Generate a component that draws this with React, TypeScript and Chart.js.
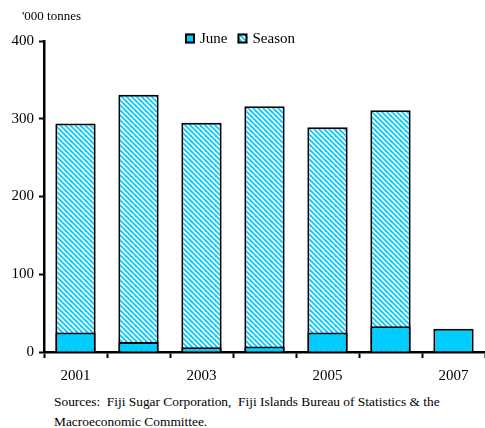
import React, { useEffect, useRef } from "react";
import { Chart, registerables } from "chart.js";

Chart.register(...registerables);

const years = ["2001", "2002", "2003", "2004", "2005", "2006", "2007"];
const juneValues = [25, 13, 6, 7, 25, 33, 30];
const seasonValues: (number | null)[] = [294, 331, 295, 316, 289, 311, null];
const yTicks = [0, 100, 200, 300, 400];
const shownLabels = ["2001", "2003", "2005", "2007"];

const CYAN = "#00CCFF";
const FONT = "'Liberation Serif', 'Times New Roman', serif";

function makeHatch(): CanvasPattern | string {
  const c = document.createElement("canvas");
  c.width = 5;
  c.height = 5;
  const ctx = c.getContext("2d");
  if (!ctx) return CYAN;
  ctx.fillStyle = "#ffffff";
  ctx.fillRect(0, 0, 5, 5);
  ctx.strokeStyle = CYAN;
  ctx.lineWidth = 1.8;
  for (let k = -1; k <= 1; k++) {
    ctx.beginPath();
    ctx.moveTo(-1, -1 + k * 5);
    ctx.lineTo(6, 6 + k * 5);
    ctx.stroke();
  }
  const p = ctx.createPattern(c, "repeat");
  return p || CYAN;
}

export default function App() {
  const ref = useRef<HTMLCanvasElement | null>(null);

  useEffect(() => {
    if (!ref.current) return;
    const hatch = makeHatch();

    const legendPlugin = {
      id: "customLegend",
      afterDraw(chart: any) {
        const ctx = chart.ctx as CanvasRenderingContext2D;
        ctx.save();
        ctx.font = `13px ${FONT}`;
        ctx.fillStyle = "#000";
        ctx.textBaseline = "alphabetic";
        ctx.textAlign = "left";
        ctx.fillText("'000 tonnes", 22, 20);

        ctx.font = `15px ${FONT}`;
        const items = chart.data.datasets.map((d: any) => ({
          label: d.label,
          fill: d.backgroundColor,
        }));
        const box = 10;
        const gapText = 5;
        const gapItem = 10;
        const widths = items.map(
          (it: any) => box + gapText + ctx.measureText(it.label).width
        );
        const total =
          widths.reduce((a: number, b: number) => a + b, 0) +
          gapItem * (items.length - 1);
        let x = Math.round(chart.width / 2 - total / 2) - 3;
        const yc = 38.5;
        items.forEach((it: any, i: number) => {
          ctx.fillStyle = it.fill;
          ctx.fillRect(x, yc - box / 2, box, box);
          ctx.strokeStyle = "#000";
          ctx.lineWidth = 2;
          ctx.strokeRect(x + 1, yc - box / 2 + 1, box - 2, box - 2);
          ctx.fillStyle = "#000";
          ctx.textBaseline = "middle";
          ctx.fillText(it.label, x + box + gapText, yc + 1);
          x += widths[i] + gapItem;
        });
        ctx.restore();
      },
    };

    const chart = new Chart(ref.current, {
      type: "bar",
      data: {
        labels: years,
        datasets: [
          {
            label: "June",
            data: juneValues,
            backgroundColor: CYAN,
            borderColor: "#000",
            borderWidth: 2,
            borderSkipped: "start",
            barPercentage: 0.64,
            categoryPercentage: 1,
          },
          {
            label: "Season",
            data: seasonValues,
            backgroundColor: hatch as any,
            borderColor: "#000",
            borderWidth: 2,
            borderSkipped: "start",
            barPercentage: 0.64,
            categoryPercentage: 1,
          },
        ],
      },
      options: {
        responsive: false,
        animation: false,
        events: [],
        layout: { padding: { top: 41, right: 0, left: 0, bottom: 0 } },
        plugins: {
          legend: { display: false },
          tooltip: { enabled: false },
          title: { display: false },
        },
        scales: {
          x: {
            stacked: true,
            afterFit: (s: any) => {
              s.height = 38;
            },
            grid: {
              offset: true,
              drawOnChartArea: false,
              drawTicks: true,
              tickLength: 6,
              tickWidth: 2,
              tickColor: "#000",
            },
            border: { display: true, color: "#000", width: 2.5 },
            ticks: {
              autoSkip: false,
              maxRotation: 0,
              color: "#000",
              padding: 9,
              font: { family: FONT, size: 15 },
              callback: function (this: any, _v: any, i: number) {
                const l = years[i];
                return shownLabels.includes(l) ? l : "";
              },
            },
          },
          y: {
            stacked: false,
            min: yTicks[0],
            max: yTicks[yTicks.length - 1],
            afterFit: (s: any) => {
              s.width = 44;
            },
            afterBuildTicks: (s: any) => {
              s.ticks = yTicks.map((v) => ({ value: v }));
            },
            grid: {
              drawOnChartArea: false,
              drawTicks: true,
              tickLength: 5,
              tickWidth: 2,
              tickColor: "#000",
            },
            border: { display: true, color: "#000", width: 2.5 },
            ticks: {
              color: "#000",
              padding: 5,
              font: { family: FONT, size: 15 },
            },
          },
        },
      },
      plugins: [legendPlugin],
    });

    return () => chart.destroy();
  }, []);

  const srcStyle: React.CSSProperties = {
    position: "absolute",
    left: 54,
    fontFamily: FONT,
    fontSize: 13.4,
    color: "#000",
    whiteSpace: "pre",
    lineHeight: "14px",
  };

  return (
    <div
      style={{
        position: "absolute",
        left: 0,
        top: 0,
        width: 485,
        height: 428,
        background: "#fff",
        overflow: "hidden",
      }}
    >
      <canvas
        ref={ref}
        width={485}
        height={390}
        style={{ position: "absolute", left: 0, top: 0, width: 485, height: 390 }}
      />
      <div style={{ ...srcStyle, top: 394.5 }}>
        {"Sources:  Fiji Sugar Corporation,  Fiji Islands Bureau of Statistics & the"}
      </div>
      <div style={{ ...srcStyle, top: 414.5 }}>{"Macroeconomic Committee."}</div>
    </div>
  );
}
